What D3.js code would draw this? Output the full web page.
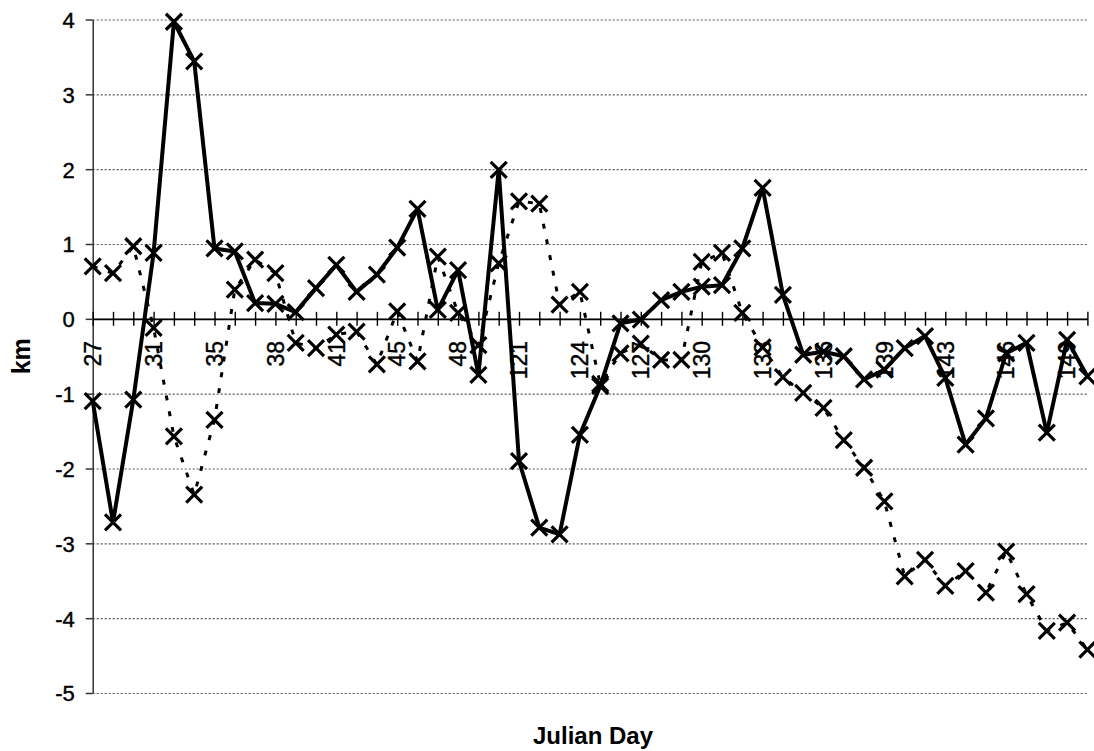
<!DOCTYPE html>
<html>
<head>
<meta charset="utf-8">
<script src="https://cdn.jsdelivr.net/npm/d3@7"></script>
<style>
	body { margin: 0; background: #fff; }
	text { font-family: Arial, "Liberation Sans", sans-serif; }
</style>
</head>
<body>
<svg id="chart" width="1094" height="751"></svg>
<script>
//julian days on the category axis (the axis only labels every third one)
var days = [27,28,30,31,32,34,35,36,37,38,39,40,41,42,44,45,46,47,48,49,120,
	121,122,123,124,125,126,127,128,129,130,131,132,133,134,135,136,137,138,139,140,
	142,143,144,145,146,147,148,149,150];
var labelDays = [27,31,35,38,41,45,48,121,124,127,130,133,136,139,143,146,149];
var yTicks = [-5,-4,-3,-2,-1,0,1,2,3,4];

//solid line, km
var solidKm = [-1.10,-2.72,-1.08,0.88,3.97,3.44,0.94,0.90,0.21,0.20,
	0.09,0.41,0.72,0.36,0.59,0.95,1.47,0.12,0.65,-0.75,
	1.99,-1.90,-2.79,-2.88,-1.55,-0.90,-0.06,-0.01,0.25,0.36,
	0.43,0.45,0.94,1.75,0.32,-0.48,-0.44,-0.50,-0.81,-0.68,
	-0.39,-0.23,-0.79,-1.68,-1.33,-0.46,-0.32,-1.52,-0.28,-0.77];
//dashed line, km
var dashedKm = [0.70,0.61,0.97,-0.12,-1.57,-2.35,-1.35,0.39,0.79,0.61,
	-0.32,-0.39,-0.21,-0.17,-0.61,0.10,-0.57,0.83,0.08,-0.35,
	0.74,1.57,1.54,0.19,0.36,-0.87,-0.46,-0.33,-0.55,-0.55,
	0.76,0.88,0.08,-0.38,-0.78,-0.99,-1.19,-1.62,-1.99,-2.44,
	-3.44,-3.22,-3.57,-3.37,-3.66,-3.11,-3.68,-4.17,-4.06,-4.42];

var params = {
	left: 92.7, right: 1087.4, top: 19.5, bottom: 693,
	markerHalf: 8
};

var svg = d3.select('#chart');

var x = d3.scalePoint()
	.domain(days)
	.range([params.left, params.right]);
var y = d3.scaleLinear()
	.domain([-5, 4])
	.range([params.bottom, params.top]);

//dotted grid
svg.append('g')
	.attr('transform', 'translate(' + params.left + ',0)')
	.call(d3.axisLeft(y).tickValues(yTicks).tickSize(-(params.right - params.left)).tickFormat(''))
	.call(function(g){
		g.select('.domain').remove();
		g.selectAll('line')
			.attr('stroke', '#555')
			.attr('stroke-width', 1.1)
			.attr('stroke-dasharray', '2,2');
	});

//y axis
var yAxis = svg.append('g')
	.attr('transform', 'translate(' + params.left + ',0)')
	.call(d3.axisLeft(y).tickValues(yTicks).tickSize(7).tickSizeOuter(0).tickPadding(11)
		.tickFormat(function(d){ return String(d); }));  //plain hyphen, not the unicode minus
yAxis.select('.domain').attr('stroke', '#333').attr('stroke-width', 1.5);
yAxis.selectAll('line').attr('stroke', '#333').attr('stroke-width', 1.5);
yAxis.selectAll('text')
	.attr('font-size', 22)
	.attr('fill', '#000')
	.attr('stroke', '#000')
	.attr('stroke-width', 0.4)
	.attr('dy', '0.36em');

//x axis along zero, ticks cross the line
var xAxis = svg.append('g')
	.attr('transform', 'translate(0,' + y(0) + ')')
	.call(d3.axisBottom(x).tickSize(7).tickSizeOuter(0).tickFormat(''));
xAxis.select('.domain').attr('stroke', '#000').attr('stroke-width', 1.6);
xAxis.selectAll('.tick line')
	.attr('y1', -7)
	.attr('stroke', '#000')
	.attr('stroke-width', 1.4);

//labels for every third day, rotated
svg.append('g')
	.attr('transform', 'translate(0,' + y(0) + ')')
	.selectAll('text').data(labelDays).enter()
	.append('text')
		.attr('transform', function(d){ return 'translate(' + x(d) + ',22) rotate(-90)'; })
		.attr('text-anchor', 'end')
		.attr('dy', '0.36em')
		.attr('font-size', 23)
		.attr('stroke', '#000')
		.attr('stroke-width', 0.4)
		.text(function(d){ return d; });

//lines
var line = d3.line()
	.x(function(d){ return x(d.day); })
	.y(function(d){ return y(d.km); });

var dashedData = days.map(function(d, i){ return {day: d, km: dashedKm[i]}; });
var solidData = days.map(function(d, i){ return {day: d, km: solidKm[i]}; });

svg.append('path')
	.datum(dashedData)
	.attr('d', line)
	.attr('fill', 'none')
	.attr('stroke', '#000')
	.attr('stroke-width', 3)
	.attr('stroke-dasharray', '5,11');

svg.append('path')
	.datum(solidData)
	.attr('d', line)
	.attr('fill', 'none')
	.attr('stroke', '#000')
	.attr('stroke-width', 4)
	.attr('stroke-linejoin', 'round');

//x markers
function drawMarkers(data){
	var m = params.markerHalf;
	svg.append('g').selectAll('path').data(data).enter()
		.append('path')
			.attr('transform', function(d){ return 'translate(' + x(d.day) + ',' + y(d.km) + ')'; })
			.attr('d', 'M' + (-m) + ',' + (-m) + 'L' + m + ',' + m + 'M' + (-m) + ',' + m + 'L' + m + ',' + (-m))
			.attr('stroke', '#000')
			.attr('stroke-width', 3.2)
			.attr('fill', 'none');
}
drawMarkers(dashedData);
drawMarkers(solidData);

//axis titles
svg.append('text')
	.attr('transform', 'translate(30,' + (params.top + params.bottom)/2 + ') rotate(-90)')
	.attr('text-anchor', 'middle')
	.attr('font-size', 25)
	.attr('font-weight', 'bold')
	.text('km');

svg.append('text')
	.attr('x', 593)
	.attr('y', 744)
	.attr('text-anchor', 'middle')
	.attr('font-size', 24)
	.attr('font-weight', 'bold')
	.text('Julian Day');
</script>
</body>
</html>
